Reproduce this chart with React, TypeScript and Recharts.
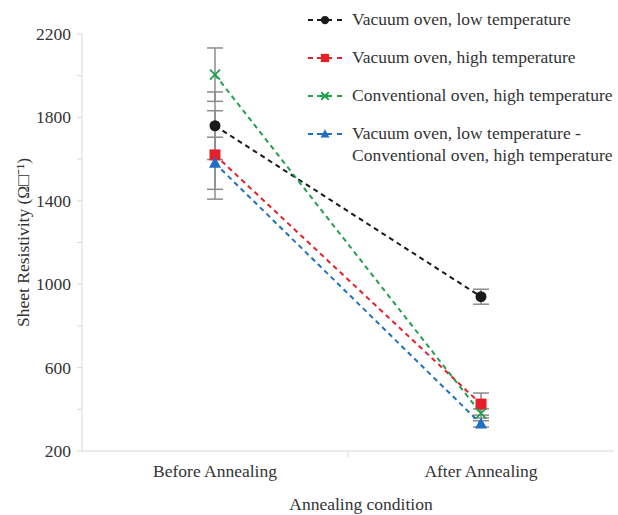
import React from "react";
import { LineChart, Line, XAxis, YAxis, ErrorBar } from "recharts";

// ── Data ─────────────────────────────────────────────────────────
const categories = ["Before Annealing", "After Annealing"];
const vacuumLow = [1760, 940];
const vacuumLowErr = [162, 36];
const vacuumHigh = [1620, 425];
const vacuumHighErr = [212, 53];
const convHigh = [2005, 380];
const convHighErr = [128, 22];
const combined = [1580, 330];
const combinedErr = [125, 15];
const yTicks = [200, 400, 600, 800, 1000, 1200, 1400, 1600, 1800, 2000, 2200];
const yLabelled = [200, 600, 1000, 1400, 1800, 2200];

const FONT = '"Liberation Serif", "Times New Roman", serif';
const TEXT = "#333333";
const AXIS = "#d9d9d9";
const ERR = "#8c8c8c";

const data = categories.map((c, i) => ({
  name: c,
  vacuumLow: vacuumLow[i],
  vacuumLowErr: vacuumLowErr[i],
  vacuumHigh: vacuumHigh[i],
  vacuumHighErr: vacuumHighErr[i],
  convHigh: convHigh[i],
  convHighErr: convHighErr[i],
  combined: combined[i],
  combinedErr: combinedErr[i],
}));

// ── Markers ───────────────────────────────────────────────────────
function Marker({ kind, cx, cy, color, s = 1 }: any) {
  if (cx == null || cy == null) return null;
  if (kind === "circle") return <circle cx={cx} cy={cy} r={5.5 * s} fill={color} />;
  if (kind === "square")
    return <rect x={cx - 5.5 * s} y={cy - 5.5 * s} width={11 * s} height={11 * s} fill={color} />;
  if (kind === "cross")
    return (
      <g stroke={color} strokeWidth={1.8}>
        <line x1={cx - 5 * s} y1={cy - 5 * s} x2={cx + 5 * s} y2={cy + 5 * s} />
        <line x1={cx - 5 * s} y1={cy + 5 * s} x2={cx + 5 * s} y2={cy - 5 * s} />
      </g>
    );
  return (
    <polygon
      points={`${cx},${cy - 6.5 * s} ${cx + 6 * s},${cy + 4.5 * s} ${cx - 6 * s},${cy + 4.5 * s}`}
      fill={color}
    />
  );
}

const series = [
  { key: "vacuumLow", label: ["Vacuum oven, low temperature"], color: "#1a1a1a", kind: "circle" },
  { key: "vacuumHigh", label: ["Vacuum oven, high temperature"], color: "#e5202a", kind: "square" },
  { key: "convHigh", label: ["Conventional oven, high temperature"], color: "#22a04c", kind: "cross" },
  {
    key: "combined",
    label: ["Vacuum oven, low temperature -", "Conventional oven, high temperature"],
    color: "#1f6fc2",
    kind: "triangle",
  },
];

// ── Legend (HTML overlay) ─────────────────────────────────────────
function ChartLegend() {
  return (
    <div
      style={{
        position: "absolute",
        left: 306,
        top: 8,
        fontFamily: FONT,
        fontSize: 17.5,
        color: TEXT,
        lineHeight: "22px",
      }}
    >
      {series.map((s) => (
        <div key={s.key} style={{ display: "flex", alignItems: "flex-start", marginBottom: 16 }}>
          <svg width={42} height={22} style={{ flexShrink: 0 }}>
            <g stroke={s.color} strokeWidth={2}>
              <line x1={2} y1={12} x2={7} y2={12} />
              <line x1={11} y1={12} x2={26} y2={12} />
              <line x1={31} y1={12} x2={36} y2={12} />
            </g>
            <Marker kind={s.kind} cx={19} cy={12} color={s.color} s={0.75} />
          </svg>
          <div style={{ marginLeft: 4 }}>
            {s.label.map((l) => (
              <div key={l}>{l}</div>
            ))}
          </div>
        </div>
      ))}
    </div>
  );
}

function YTick({ x, y, payload }: any) {
  if (!yLabelled.includes(payload.value)) return null;
  return (
    <text x={x - 4} y={y} dy={6} textAnchor="end" fontFamily={FONT} fontSize={17.5} fill={TEXT}>
      {payload.value}
    </text>
  );
}

// category label plus the boundary tick between the two bands
function XTick({ x, y, payload, index }: any) {
  const half = payload?.offset;
  return (
    <g>
      {index === 0 && half ? (
        <line x1={x + half} y1={y - 15} x2={x + half} y2={y - 10} stroke={AXIS} />
      ) : null}
      <text x={x} y={y} dy={10} textAnchor="middle" fontFamily={FONT} fontSize={17.5} fill={TEXT}>
        {payload.value}
      </text>
    </g>
  );
}

export default function App() {
  return (
    <div style={{ position: "absolute", left: 0, top: 0, width: 618, height: 515, background: "#fff" }}>
      <LineChart
        width={618}
        height={515}
        data={data}
        margin={{ top: 34, right: 4, left: 0, bottom: 0 }}
      >
        <XAxis
          dataKey="name"
          scale="band"
          height={64}
          stroke={AXIS}
          tickLine={false}
          tick={<XTick />}
          tickMargin={10}
          label={{
            value: "Annealing condition",
            position: "insideBottom",
            offset: 5,
            dx: 13,
            style: { fontFamily: FONT, fontSize: 17.5, fill: TEXT },
          }}
        />
        <YAxis
          width={82}
          domain={[200, 2200]}
          ticks={yTicks}
          interval={0}
          stroke={AXIS}
          tickSize={5}
          tick={<YTick />}
          label={{
            value: "Sheet Resistivity (Ω□⁻¹)",
            angle: -90,
            position: "insideLeft",
            offset: 23,
            style: { textAnchor: "middle", fontFamily: FONT, fontSize: 17.5, fill: TEXT },
          }}
        />
        {series.map((s) => (
          <Line
            key={s.key}
            dataKey={s.key}
            stroke={s.color}
            strokeWidth={2}
            strokeDasharray="5 4"
            isAnimationActive={false}
            dot={(p: any) => <Marker key={`${s.key}-${p.index}`} kind={s.kind} cx={p.cx} cy={p.cy} color={s.color} />}
            activeDot={false}
          >
            <ErrorBar dataKey={`${s.key}Err`} width={8} stroke={ERR} strokeWidth={1.5} direction="y" />
          </Line>
        ))}
      </LineChart>
      <ChartLegend />
    </div>
  );
}
